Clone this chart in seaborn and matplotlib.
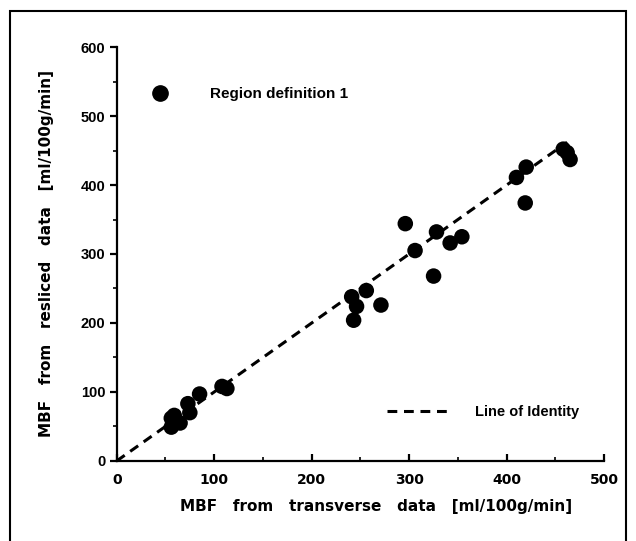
import matplotlib
matplotlib.use('Agg')
import seaborn as sns
import pandas as pd
import matplotlib.pyplot as plt
from matplotlib.patches import Rectangle
from matplotlib.lines import Line2D

# 数据: 横截面数据 vs 重切片数据 的 MBF
transverse = [56, 59, 65, 56, 73, 75, 85, 108, 113,
              241, 246, 243, 256, 271, 296, 306, 328, 325, 342, 354,
              410, 420, 419, 458, 462, 465]
resliced = [62, 66, 55, 49, 83, 70, 97, 108, 105,
            238, 224, 204, 247, 226, 344, 305, 332, 268, 316, 325,
            411, 426, 374, 452, 447, 437]
identity = [0, 462]

x_ticks = [0, 100, 200, 300, 400, 500]
y_ticks = [0, 100, 200, 300, 400, 500, 600]

sns.set_theme(style='white')
plt.rcParams['font.family'] = ['Liberation Sans', 'DejaVu Sans']
plt.rcParams['font.weight'] = 'bold'
for k in ['text.color', 'axes.labelcolor', 'xtick.color', 'ytick.color']:
    plt.rcParams[k] = 'black'

df = pd.DataFrame({'transverse': transverse, 'resliced': resliced})
line_df = pd.DataFrame({'x': identity, 'y': identity})

fig = plt.figure(figsize=(6.36, 5.41), dpi=100)
ax = fig.add_axes([0.1835, 0.148, 0.7665, 0.765])

# 恒等线
sns.lineplot(data=line_df, x='x', y='y', ax=ax, color='black', lw=2.2,
             dashes=False, linestyle=(0, (3.2, 2.2)), clip_on=False)
# 散点
sns.scatterplot(data=df, x='transverse', y='resliced', ax=ax, color='black',
                s=125, edgecolor='none', clip_on=False, zorder=3)

ax.set_xlim(0, 500)
ax.set_ylim(0, 600)
ax.set_xticks(x_ticks)
ax.set_yticks(y_ticks)
ax.set_xticks(range(50, 500, 100), minor=True)
ax.set_yticks(range(50, 600, 100), minor=True)

for s in ['top', 'right']:
    ax.spines[s].set_visible(False)
for s in ['left', 'bottom']:
    ax.spines[s].set_linewidth(1.6)
    ax.spines[s].set_color('black')

ax.tick_params(axis='x', which='major', direction='in', length=5, width=1.6,
               pad=9, labelsize=10, bottom=True)
ax.tick_params(axis='x', which='minor', direction='in', length=3, width=1.2, bottom=True)
ax.tick_params(axis='y', which='major', direction='out', length=5, width=1.6,
               pad=3, labelsize=10.5, left=True)
ax.tick_params(axis='y', which='minor', direction='out', length=3, width=1.2, left=True)
for lab in ax.get_xticklabels():
    lab.set_family('DejaVu Sans')
    lab.set_fontweight('bold')
for lab in ax.get_yticklabels():
    lab.set_fontweight('bold')

ax.set_xlabel('MBF   from   transverse   data   [ml/100g/min]',
              fontsize=11, fontweight='bold', family='DejaVu Sans')
ax.set_ylabel('MBF   from   resliced   data   [ml/100g/min]',
              fontsize=11, fontweight='bold', family='DejaVu Sans', labelpad=19)
ax.xaxis.set_label_coords(0.532, -0.092)

# 图例
h1 = Line2D([], [], marker='o', color='black', linestyle='none', markersize=11)
leg1 = ax.legend([h1], ['Region definition 1'], loc='upper left',
                 bbox_to_anchor=(0.029, 0.937), frameon=False, handletextpad=2.25,
                 prop={'weight': 'bold', 'size': 11})
ax.add_artist(leg1)
h2 = Line2D([], [], color='black', lw=2.2, linestyle=(0, (3.2, 2.2)))
ax.legend([h2], ['Line of Identity'], loc='lower right',
          bbox_to_anchor=(0.975, 0.07), frameon=False, handlelength=4.2,
          handletextpad=1.8, prop={'weight': 'bold', 'size': 10.5})

# 外框
fig.patches.append(Rectangle((0.0157, -0.02), 0.968, 0.9997, transform=fig.transFigure,
                             fill=False, edgecolor='black', lw=1.5))

fig.savefig('out.png', dpi=100)
